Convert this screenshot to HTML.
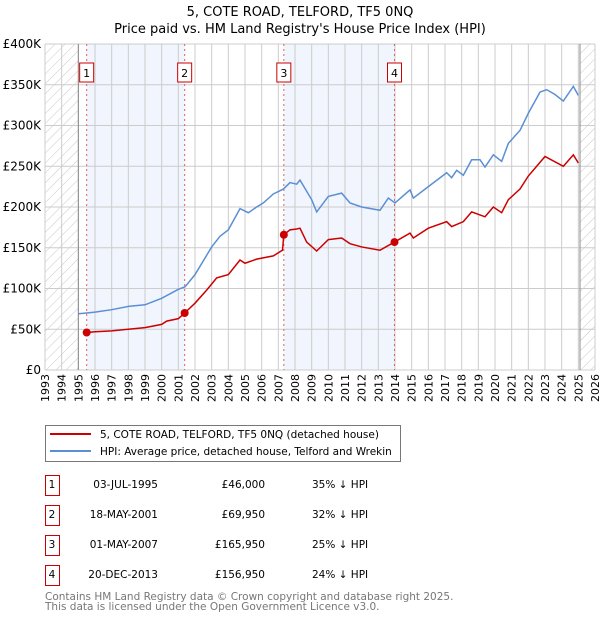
<!DOCTYPE html>
<html><head><meta charset="utf-8"><style>
body{margin:0;background:#fff;width:600px;height:620px;overflow:hidden;font-family:"DejaVu Sans","Liberation Sans",sans-serif}
svg text{font-family:"DejaVu Sans","Liberation Sans",sans-serif}
</style></head><body>
<svg id="c" width="600" height="620">
<defs><pattern id="h" width="7" height="7" patternUnits="userSpaceOnUse" patternTransform="rotate(45)"><line x1="0" y1="0" x2="0" y2="7" stroke="#c8c8c8" stroke-width="1"/></pattern></defs>
<text x="300" y="16" text-anchor="middle" font-size="13">5, COTE ROAD, TELFORD, TF5 0NQ</text>
<text x="300" y="33" text-anchor="middle" font-size="13">Price paid vs. HM Land Registry's House Price Index (HPI)</text>
<g id="plot"></g>
<g>
<rect x="45.5" y="425.5" width="355" height="36" fill="#fff" stroke="#777"/>
<line x1="50" y1="434" x2="91" y2="434" stroke="#cc0000" stroke-width="2"/>
<text x="100" y="438" font-size="10.5">5, COTE ROAD, TELFORD, TF5 0NQ (detached house)</text>
<line x1="50" y1="451" x2="91" y2="451" stroke="#5b8fd4" stroke-width="2"/>
<text x="100" y="455" font-size="10.5">HPI: Average price, detached house, Telford and Wrekin</text>
</g>
<g id="tbl"></g>
<text x="45" y="600" font-size="10.5" fill="#777">Contains HM Land Registry data © Crown copyright and database right 2025.</text>
<text x="45" y="610" font-size="10.5" fill="#777">This data is licensed under the Open Government Licence v3.0.</text>
</svg>
<script>
const yTicks=[0,50,100,150,200,250,300,350,400];
const yTickLabels=["£0","£50K","£100K","£150K","£200K","£250K","£300K","£350K","£400K"];
const hpiYears=[1995.0,1995.5,1996,1997,1998,1999,2000,2001,2001.4,2002,2003,2003.5,2004,2004.7,2005.2,2005.7,2006.1,2006.7,2007.3,2007.7,2008.1,2008.3,2009.0,2009.3,2010.0,2010.8,2011.3,2012.0,2013.1,2013.6,2014.0,2014.9,2015.1,2016.0,2017.1,2017.4,2017.7,2018.1,2018.6,2019.1,2019.4,2019.9,2020.4,2020.8,2021.5,2022.0,2022.7,2023.1,2023.6,2024.1,2024.7,2025.0];
const hpiValues=[69,70,71,74,78,80,88,99,102,117,151,164,172,198,193,200,205,216,222,230,228,233,209,194,213,217,205,200,196,211,205,221,211,225,242,236,245,239,258,258,249,264,256,278,294,315,341,344,338,330,348,337];
const propYears=[1995.5,1996,1997,1998,1999,2000,2000.3,2001,2001.38,2002,2002.7,2003.3,2004,2004.7,2005.0,2005.7,2006.7,2007.25,2007.33,2007.7,2008.1,2008.3,2008.7,2009.3,2010.0,2010.8,2011.3,2012.0,2013.1,2013.97,2014.9,2015.1,2016.0,2017.1,2017.4,2018.1,2018.6,2019.4,2019.9,2020.4,2020.8,2021.5,2022.0,2023.0,2024.1,2024.7,2025.0];
const propValues=[46,47,48,50,52,56,60,63,69.95,82,98,113,117,135,131,136,140,147,165.95,172,173,174,157,146,160,162,155,151,147,156.95,168,162,174,182,176,182,194,188,200,193,209,222,238,262,250,264,254];
const saleYears=[1995.5,2001.38,2007.33,2013.97];
const saleValues=[46,69.95,165.95,156.95];
const saleLabels=["1","2","3","4"];
const saleDates=["03-JUL-1995","18-MAY-2001","01-MAY-2007","20-DEC-2013"];
const salePrices=["£46,000","£69,950","£165,950","£156,950"];
const saleDiffs=["35% ↓ HPI","32% ↓ HPI","25% ↓ HPI","24% ↓ HPI"];
const xStart=1993,xEnd=2026,dataEnd=2025.1;
const L=45,R=595,T=44,B=370;
const X=y=>L+(y-xStart)/(xEnd-xStart)*(R-L);
const Y=v=>B-v/400*(B-T);
const NS="http://www.w3.org/2000/svg";
const g=document.getElementById('plot');
function mk(t,a,p){const e=document.createElementNS(NS,t);for(const k in a)e.setAttribute(k,a[k]);(p||g).appendChild(e);return e;}
let e;
for(let i=0;i<saleYears.length;i+=2){
 e=mk('rect',{x:X(saleYears[i]),y:T,width:X(saleYears[i+1])-X(saleYears[i]),height:B-T,fill:'#eef3fd',opacity:0.8});
 
 
}
e=mk('rect',{x:L,y:T,width:X(1995)-L,height:B-T,fill:'url(#h)'});


e=mk('rect',{x:X(dataEnd),y:T,width:R-X(dataEnd),height:B-T,fill:'url(#h)'});


for(let y=xStart;y<=xEnd;y++){
 e=mk('line',{x1:X(y),x2:X(y),y1:T,y2:B,stroke:'#ccc'});
 
 
 e=mk('text',{x:0,y:0,'font-size':11,'text-anchor':'end',transform:`translate(${X(y)+4},${B+4}) rotate(-90)`});
 e.textContent=y;
 
 
}
yTicks.forEach((v,i)=>{
 e=mk('line',{x1:L,x2:R,y1:Y(v),y2:Y(v),stroke:'#ccc'});
 
 
 e=mk('text',{x:L-4,y:Y(v)+4,'font-size':12,'text-anchor':'end'});
 e.textContent=yTickLabels[i];
 
 
});
e=mk('line',{x1:X(1995),x2:X(1995),y1:T,y2:B,stroke:'#888'});


e=mk('line',{x1:X(dataEnd),x2:X(dataEnd),y1:T,y2:B,stroke:'#888'});


saleYears.forEach((s,i)=>{
 e=mk('line',{x1:X(s),x2:X(s),y1:T,y2:B,stroke:'#e06060','stroke-dasharray':'2,3'});
 
 
 e=mk('rect',{x:X(s)-7,y:63,width:14,height:19,fill:'#fff',stroke:'#cc0000'});
 
 
 e=mk('text',{x:X(s),y:77,'font-size':11,'text-anchor':'middle'});
 e.textContent=saleLabels[i];
 
 
});
e=mk('polyline',{points:hpiYears.map((y,i)=>X(y)+','+Y(hpiValues[i])).join(' '),fill:'none',stroke:'#5b8fd4','stroke-width':1.5});


e=mk('polyline',{points:propYears.map((y,i)=>X(y)+','+Y(propValues[i])).join(' '),fill:'none',stroke:'#cc0000','stroke-width':1.5});


saleYears.forEach((s,i)=>{
 e=mk('circle',{cx:X(s),cy:Y(saleValues[i]),r:4,fill:'#cc0000'});
 
 
});
const t=document.getElementById('tbl');
saleLabels.forEach((l,i)=>{
 const y0=475+i*30;
 e=mk('rect',{x:45.5,y:y0+0.5,width:14,height:20,fill:'#fff',stroke:'#cc0000'},t);
 
 
 const cells=[[52,l,'middle'],[158,saleDates[i],'end'],[265,salePrices[i],'end'],[312,saleDiffs[i],'start']];
 cells.forEach(c=>{
  e=mk('text',{x:c[0],y:y0+13,'font-size':10.5,'text-anchor':c[2]},t);
  e.textContent=c[1];
  
  
 });
});
</script>
</body></html>
